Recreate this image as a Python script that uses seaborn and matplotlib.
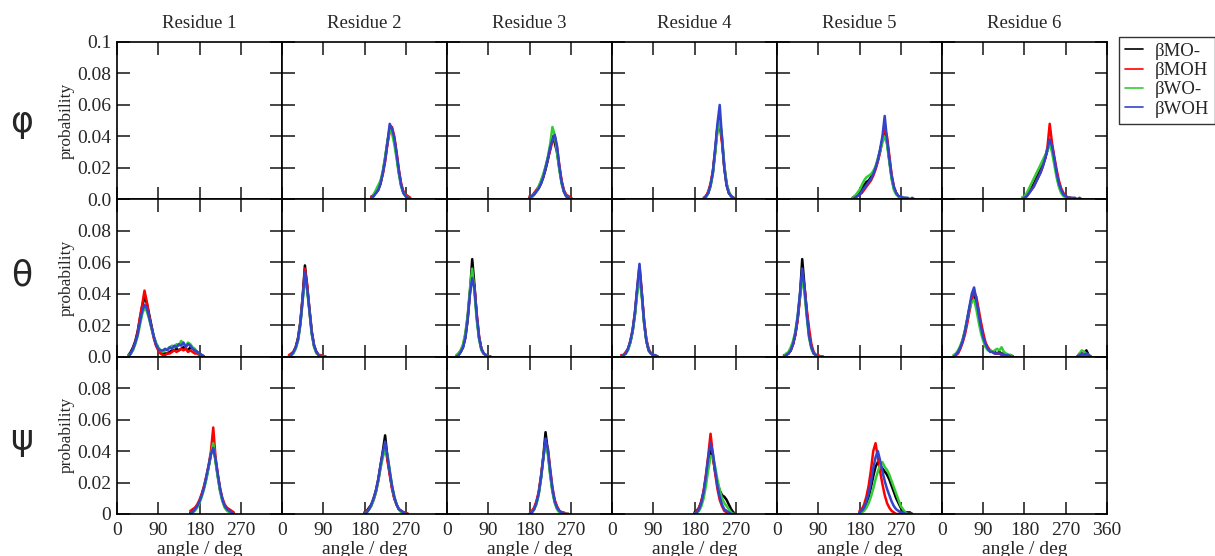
import matplotlib.pyplot as plt
import seaborn as sns
import numpy as np
import pandas as pd

series = ['βMO-', 'βMOH', 'βWO-', 'βWOH']
colors = ['#000000', '#ff0000', '#33cc33', '#3344cc']
residues = ['Residue 1', 'Residue 2', 'Residue 3', 'Residue 4', 'Residue 5', 'Residue 6']
dihedrals = ['φ', 'θ', 'ψ']

# probability per 5 deg bin; one list per series (MO-, MOH, WO-, WOH)
phi2_start = 195
phi2 = [
    [0.001, 0.003, 0.004, 0.006, 0.010, 0.017, 0.026, 0.036, 0.045, 0.044, 0.038, 0.028, 0.017, 0.009, 0.004, 0.002, 0.001, 0.0],
    [0.002, 0.002, 0.005, 0.007, 0.011, 0.016, 0.024, 0.035, 0.043, 0.046, 0.040, 0.030, 0.019, 0.010, 0.005, 0.003, 0.002, 0.001],
    [0.0, 0.003, 0.006, 0.009, 0.012, 0.018, 0.027, 0.037, 0.044, 0.042, 0.035, 0.026, 0.016, 0.008, 0.004, 0.002, 0.001, 0.0],
    [0.001, 0.002, 0.004, 0.006, 0.010, 0.017, 0.025, 0.036, 0.048, 0.045, 0.039, 0.029, 0.018, 0.009, 0.004, 0.002, 0.001, 0.0],
]
phi3_start = 180
phi3 = [
    [0.001, 0.002, 0.003, 0.005, 0.007, 0.010, 0.014, 0.019, 0.025, 0.032, 0.040, 0.036, 0.030, 0.020, 0.011, 0.005, 0.002, 0.001, 0.0, 0.0],
    [0.002, 0.002, 0.004, 0.006, 0.008, 0.011, 0.015, 0.020, 0.026, 0.031, 0.037, 0.040, 0.033, 0.022, 0.012, 0.006, 0.003, 0.002, 0.001, 0.0],
    [0.0, 0.001, 0.003, 0.005, 0.008, 0.012, 0.016, 0.021, 0.027, 0.035, 0.046, 0.041, 0.030, 0.019, 0.010, 0.005, 0.002, 0.001, 0.0, 0.0],
    [0.001, 0.002, 0.003, 0.005, 0.007, 0.010, 0.014, 0.020, 0.026, 0.033, 0.038, 0.041, 0.034, 0.021, 0.011, 0.005, 0.002, 0.001, 0.0, 0.0],
]
phi4_start = 200
phi4 = [
    [0.0, 0.002, 0.004, 0.009, 0.017, 0.030, 0.046, 0.052, 0.038, 0.020, 0.009, 0.004, 0.002, 0.001, 0.0],
    [0.001, 0.002, 0.005, 0.010, 0.018, 0.031, 0.044, 0.047, 0.036, 0.021, 0.010, 0.004, 0.002, 0.001, 0.0],
    [0.0, 0.001, 0.004, 0.008, 0.016, 0.029, 0.043, 0.050, 0.040, 0.022, 0.010, 0.005, 0.002, 0.001, 0.0],
    [0.0, 0.002, 0.004, 0.009, 0.017, 0.032, 0.048, 0.060, 0.039, 0.020, 0.009, 0.004, 0.002, 0.001, 0.0],
]
phi5_start = 165
phi5 = [
    [0.001, 0.002, 0.003, 0.004, 0.006, 0.009, 0.011, 0.012, 0.014, 0.017, 0.020, 0.025, 0.031, 0.038, 0.046, 0.037, 0.025, 0.014, 0.007, 0.004, 0.002, 0.001, 0.001, 0.0, 0.0, 0.0, 0.0, 0.0],
    [0.0, 0.001, 0.002, 0.003, 0.004, 0.006, 0.008, 0.010, 0.012, 0.015, 0.019, 0.024, 0.030, 0.038, 0.045, 0.040, 0.028, 0.016, 0.008, 0.004, 0.002, 0.001, 0.0, 0.0, 0.0, 0.0, 0.0, 0.0],
    [0.001, 0.002, 0.004, 0.006, 0.009, 0.012, 0.014, 0.015, 0.016, 0.018, 0.021, 0.026, 0.031, 0.036, 0.040, 0.035, 0.024, 0.013, 0.006, 0.003, 0.002, 0.001, 0.001, 0.001, 0.0, 0.0, 0.0, 0.0],
    [0.0, 0.001, 0.002, 0.003, 0.005, 0.007, 0.009, 0.011, 0.013, 0.016, 0.020, 0.025, 0.032, 0.040, 0.053, 0.038, 0.026, 0.015, 0.008, 0.004, 0.002, 0.002, 0.001, 0.001, 0.001, 0.0, 0.001, 0.0],
]
phi6_start = 175
phi6 = [
    [0.001, 0.002, 0.003, 0.005, 0.007, 0.010, 0.013, 0.016, 0.019, 0.022, 0.026, 0.031, 0.038, 0.033, 0.025, 0.016, 0.009, 0.005, 0.003, 0.002, 0.001, 0.001, 0.0, 0.0, 0.0, 0.0, 0.0],
    [0.0, 0.001, 0.002, 0.004, 0.006, 0.008, 0.011, 0.014, 0.017, 0.021, 0.026, 0.033, 0.048, 0.036, 0.027, 0.019, 0.012, 0.007, 0.004, 0.002, 0.001, 0.001, 0.0, 0.0, 0.0, 0.0, 0.0],
    [0.001, 0.002, 0.004, 0.007, 0.010, 0.013, 0.016, 0.019, 0.022, 0.025, 0.028, 0.031, 0.035, 0.030, 0.022, 0.014, 0.008, 0.004, 0.002, 0.001, 0.001, 0.0, 0.0, 0.0, 0.0, 0.0, 0.0],
    [0.0, 0.001, 0.002, 0.004, 0.006, 0.008, 0.011, 0.014, 0.017, 0.021, 0.026, 0.032, 0.038, 0.034, 0.026, 0.017, 0.010, 0.006, 0.003, 0.002, 0.001, 0.001, 0.001, 0.001, 0.0, 0.001, 0.0],
]

theta1_start = 25
theta1 = [
    [0.001, 0.003, 0.006, 0.010, 0.016, 0.024, 0.032, 0.038, 0.034, 0.027, 0.020, 0.013, 0.008, 0.005, 0.003, 0.002, 0.002, 0.002, 0.003, 0.004, 0.004, 0.005, 0.004, 0.005, 0.006, 0.005, 0.004, 0.006, 0.005, 0.004, 0.003, 0.002, 0.001, 0.0],
    [0.0, 0.002, 0.005, 0.009, 0.015, 0.025, 0.033, 0.042, 0.035, 0.026, 0.019, 0.012, 0.007, 0.004, 0.002, 0.001, 0.001, 0.002, 0.002, 0.003, 0.004, 0.003, 0.004, 0.005, 0.004, 0.005, 0.003, 0.004, 0.003, 0.002, 0.002, 0.001, 0.001, 0.0],
    [0.001, 0.002, 0.004, 0.008, 0.013, 0.020, 0.027, 0.031, 0.029, 0.024, 0.018, 0.013, 0.009, 0.006, 0.004, 0.003, 0.004, 0.005, 0.006, 0.007, 0.006, 0.008, 0.007, 0.010, 0.008, 0.007, 0.009, 0.008, 0.006, 0.005, 0.003, 0.002, 0.001, 0.0],
    [0.0, 0.002, 0.005, 0.009, 0.014, 0.022, 0.029, 0.033, 0.031, 0.025, 0.019, 0.013, 0.008, 0.005, 0.004, 0.004, 0.005, 0.004, 0.006, 0.005, 0.007, 0.006, 0.008, 0.007, 0.009, 0.006, 0.008, 0.007, 0.005, 0.004, 0.003, 0.002, 0.001, 0.0],
]
theta2_start = 15
theta2 = [
    [0.0, 0.001, 0.003, 0.006, 0.012, 0.022, 0.038, 0.058, 0.044, 0.030, 0.016, 0.007, 0.003, 0.001, 0.0, 0.0, 0.0],
    [0.001, 0.002, 0.003, 0.006, 0.011, 0.021, 0.037, 0.056, 0.046, 0.029, 0.015, 0.007, 0.003, 0.001, 0.001, 0.0, 0.0],
    [0.0, 0.001, 0.002, 0.005, 0.010, 0.020, 0.035, 0.050, 0.042, 0.028, 0.014, 0.006, 0.002, 0.001, 0.0, 0.0, 0.0],
    [0.0, 0.001, 0.003, 0.006, 0.011, 0.021, 0.036, 0.054, 0.043, 0.029, 0.015, 0.007, 0.003, 0.001, 0.0, 0.0, 0.0],
]
theta3_start = 20
theta3 = [
    [0.0, 0.001, 0.003, 0.006, 0.012, 0.023, 0.040, 0.062, 0.045, 0.025, 0.012, 0.005, 0.002, 0.001, 0.0, 0.0],
    [0.0, 0.002, 0.004, 0.007, 0.014, 0.025, 0.041, 0.052, 0.044, 0.027, 0.013, 0.005, 0.002, 0.001, 0.0, 0.0],
    [0.001, 0.002, 0.004, 0.008, 0.015, 0.026, 0.043, 0.056, 0.040, 0.023, 0.011, 0.004, 0.002, 0.001, 0.0, 0.0],
    [0.0, 0.001, 0.003, 0.006, 0.012, 0.024, 0.040, 0.050, 0.043, 0.026, 0.012, 0.005, 0.002, 0.001, 0.0, 0.0],
]
theta4_start = 20
theta4 = [
    [0.0, 0.001, 0.002, 0.005, 0.009, 0.016, 0.027, 0.042, 0.055, 0.040, 0.022, 0.010, 0.004, 0.002, 0.001, 0.0, 0.0],
    [0.001, 0.001, 0.003, 0.005, 0.010, 0.017, 0.028, 0.043, 0.058, 0.041, 0.023, 0.011, 0.005, 0.002, 0.001, 0.0, 0.0],
    [0.0, 0.001, 0.002, 0.004, 0.009, 0.016, 0.026, 0.040, 0.050, 0.038, 0.021, 0.010, 0.004, 0.002, 0.001, 0.0, 0.0],
    [0.0, 0.001, 0.002, 0.005, 0.010, 0.017, 0.028, 0.044, 0.059, 0.040, 0.022, 0.010, 0.004, 0.002, 0.001, 0.001, 0.0],
]
theta5_start = 15
theta5 = [
    [0.0, 0.001, 0.002, 0.004, 0.008, 0.014, 0.024, 0.038, 0.062, 0.045, 0.028, 0.014, 0.006, 0.002, 0.001, 0.0, 0.0, 0.0],
    [0.001, 0.001, 0.002, 0.004, 0.008, 0.014, 0.023, 0.037, 0.052, 0.044, 0.030, 0.018, 0.008, 0.003, 0.001, 0.001, 0.0, 0.0],
    [0.0, 0.002, 0.003, 0.006, 0.010, 0.016, 0.026, 0.039, 0.050, 0.040, 0.025, 0.012, 0.005, 0.002, 0.001, 0.0, 0.0, 0.0],
    [0.0, 0.001, 0.002, 0.004, 0.008, 0.015, 0.025, 0.040, 0.056, 0.044, 0.027, 0.013, 0.006, 0.002, 0.001, 0.0, 0.0, 0.0],
]
theta6_start = 25
theta6 = [
    [0.0, 0.001, 0.003, 0.006, 0.010, 0.016, 0.023, 0.031, 0.038, 0.040, 0.033, 0.025, 0.018, 0.012, 0.008, 0.005, 0.004, 0.003, 0.003, 0.002, 0.003, 0.002, 0.002, 0.001, 0.001, 0.001, 0.0],
    [0.0, 0.001, 0.002, 0.005, 0.009, 0.014, 0.021, 0.029, 0.036, 0.041, 0.038, 0.030, 0.022, 0.015, 0.009, 0.006, 0.004, 0.003, 0.002, 0.002, 0.002, 0.001, 0.001, 0.001, 0.0, 0.0, 0.0],
    [0.001, 0.002, 0.004, 0.007, 0.011, 0.017, 0.024, 0.031, 0.035, 0.036, 0.030, 0.022, 0.015, 0.010, 0.006, 0.004, 0.004, 0.003, 0.004, 0.005, 0.004, 0.006, 0.003, 0.002, 0.001, 0.001, 0.0],
    [0.0, 0.001, 0.003, 0.006, 0.010, 0.016, 0.024, 0.032, 0.040, 0.044, 0.036, 0.027, 0.019, 0.012, 0.008, 0.005, 0.003, 0.003, 0.002, 0.002, 0.002, 0.002, 0.001, 0.001, 0.001, 0.0, 0.0],
]
theta6b_start = 295
theta6b = [
    [0.0, 0.001, 0.003, 0.002, 0.004, 0.001, 0.0],
    [0.0, 0.002, 0.001, 0.003, 0.001, 0.0, 0.0],
    [0.0, 0.002, 0.004, 0.003, 0.002, 0.001, 0.0],
    [0.0, 0.001, 0.002, 0.001, 0.002, 0.001, 0.0],
]

psi1_start = 160
psi1 = [
    [0.001, 0.002, 0.003, 0.005, 0.008, 0.012, 0.017, 0.023, 0.030, 0.038, 0.044, 0.034, 0.024, 0.015, 0.009, 0.005, 0.003, 0.002, 0.001, 0.0],
    [0.002, 0.003, 0.004, 0.006, 0.009, 0.013, 0.018, 0.024, 0.031, 0.040, 0.055, 0.036, 0.025, 0.016, 0.010, 0.006, 0.004, 0.003, 0.002, 0.001],
    [0.0, 0.001, 0.002, 0.004, 0.007, 0.011, 0.016, 0.022, 0.030, 0.038, 0.045, 0.033, 0.023, 0.014, 0.008, 0.004, 0.002, 0.001, 0.0, 0.0],
    [0.0, 0.001, 0.003, 0.005, 0.008, 0.012, 0.017, 0.024, 0.031, 0.038, 0.042, 0.035, 0.025, 0.016, 0.009, 0.005, 0.003, 0.002, 0.001, 0.0],
]
psi2_start = 180
psi2 = [
    [0.001, 0.002, 0.004, 0.006, 0.010, 0.015, 0.022, 0.031, 0.040, 0.050, 0.036, 0.026, 0.017, 0.010, 0.006, 0.003, 0.002, 0.001, 0.0, 0.0],
    [0.001, 0.002, 0.003, 0.006, 0.009, 0.014, 0.021, 0.030, 0.038, 0.044, 0.034, 0.025, 0.016, 0.010, 0.006, 0.003, 0.002, 0.001, 0.001, 0.0],
    [0.0, 0.001, 0.003, 0.005, 0.009, 0.014, 0.021, 0.029, 0.036, 0.041, 0.038, 0.028, 0.018, 0.011, 0.006, 0.003, 0.001, 0.0, 0.0, 0.0],
    [0.0, 0.001, 0.003, 0.006, 0.010, 0.015, 0.022, 0.031, 0.039, 0.046, 0.037, 0.027, 0.018, 0.011, 0.006, 0.003, 0.002, 0.001, 0.0, 0.0],
]
psi3_start = 180
psi3 = [
    [0.0, 0.001, 0.003, 0.007, 0.013, 0.023, 0.036, 0.052, 0.040, 0.026, 0.015, 0.008, 0.004, 0.002, 0.001, 0.0, 0.0, 0.0],
    [0.0, 0.002, 0.004, 0.008, 0.014, 0.024, 0.036, 0.045, 0.042, 0.029, 0.017, 0.009, 0.005, 0.002, 0.001, 0.001, 0.0, 0.0],
    [0.0, 0.001, 0.003, 0.006, 0.012, 0.022, 0.035, 0.046, 0.038, 0.025, 0.014, 0.007, 0.003, 0.001, 0.0, 0.0, 0.0, 0.0],
    [0.0, 0.001, 0.003, 0.007, 0.013, 0.023, 0.035, 0.048, 0.041, 0.028, 0.016, 0.008, 0.004, 0.002, 0.001, 0.0, 0.0, 0.0],
]
psi4_start = 180
psi4 = [
    [0.001, 0.002, 0.004, 0.008, 0.014, 0.023, 0.034, 0.042, 0.036, 0.027, 0.020, 0.015, 0.012, 0.011, 0.009, 0.006, 0.003, 0.001, 0.0],
    [0.0, 0.002, 0.004, 0.008, 0.015, 0.025, 0.037, 0.051, 0.038, 0.026, 0.016, 0.009, 0.005, 0.002, 0.001, 0.0, 0.0, 0.0, 0.0],
    [0.0, 0.001, 0.002, 0.005, 0.010, 0.018, 0.028, 0.036, 0.037, 0.030, 0.022, 0.015, 0.010, 0.007, 0.005, 0.003, 0.001, 0.0, 0.0],
    [0.0, 0.001, 0.003, 0.007, 0.014, 0.024, 0.036, 0.045, 0.039, 0.028, 0.018, 0.011, 0.006, 0.003, 0.002, 0.001, 0.0, 0.0, 0.0],
]
psi5_start = 180
psi5 = [
    [0.001, 0.002, 0.004, 0.007, 0.011, 0.017, 0.024, 0.030, 0.033, 0.031, 0.029, 0.027, 0.025, 0.022, 0.018, 0.014, 0.010, 0.007, 0.004, 0.002, 0.001, 0.001, 0.001, 0.0],
    [0.002, 0.003, 0.006, 0.011, 0.018, 0.028, 0.040, 0.045, 0.036, 0.027, 0.019, 0.012, 0.007, 0.004, 0.002, 0.001, 0.0, 0.0, 0.0, 0.0, 0.0, 0.0, 0.0, 0.0],
    [0.0, 0.001, 0.002, 0.004, 0.007, 0.011, 0.016, 0.022, 0.027, 0.031, 0.033, 0.030, 0.028, 0.025, 0.021, 0.017, 0.013, 0.009, 0.005, 0.003, 0.001, 0.0, 0.0, 0.0],
    [0.001, 0.002, 0.004, 0.008, 0.013, 0.020, 0.029, 0.036, 0.040, 0.034, 0.027, 0.021, 0.016, 0.012, 0.008, 0.005, 0.003, 0.002, 0.001, 0.001, 0.0, 0.0, 0.0, 0.0],
]

# (row, column) -> list of (start angle, values) segments
panels = {
    (0, 1): [(phi2_start, phi2)],
    (0, 2): [(phi3_start, phi3)],
    (0, 3): [(phi4_start, phi4)],
    (0, 4): [(phi5_start, phi5)],
    (0, 5): [(phi6_start, phi6)],
    (1, 0): [(theta1_start, theta1)],
    (1, 1): [(theta2_start, theta2)],
    (1, 2): [(theta3_start, theta3)],
    (1, 3): [(theta4_start, theta4)],
    (1, 4): [(theta5_start, theta5)],
    (1, 5): [(theta6_start, theta6), (theta6b_start, theta6b)],
    (2, 0): [(psi1_start, psi1)],
    (2, 1): [(psi2_start, psi2)],
    (2, 2): [(psi3_start, psi3)],
    (2, 3): [(psi4_start, psi4)],
    (2, 4): [(psi5_start, psi5)],
}

records = []
for (r, c), segs in panels.items():
    for k, (start, block) in enumerate(segs):
        for name, vals in zip(series, block):
            for i, v in enumerate(vals):
                records.append((r, c, k, name, start + 5 * i, v))
df = pd.DataFrame(records, columns=['row', 'col', 'seg', 'series', 'angle', 'prob'])

sns.set_style('ticks')
plt.rcParams['font.family'] = ['Liberation Serif', 'DejaVu Serif']
plt.rcParams['axes.linewidth'] = 1.2

fig = plt.figure(figsize=(12.15, 5.56), dpi=100)
axes = fig.subplots(3, 6, gridspec_kw=dict(wspace=0, hspace=0))
fig.subplots_adjust(left=117 / 1215, right=1107 / 1215, top=1 - 42 / 556, bottom=1 - 514 / 556)

handles = None
for r in range(3):
    for c in range(6):
        ax = axes[r, c]
        sub = df[(df.row == r) & (df.col == c)]
        if len(sub):
            sns.lineplot(data=sub, x='angle', y='prob', hue='series', units='seg',
                         estimator=None, hue_order=series, palette=colors,
                         lw=1.8, ax=ax, legend=(handles is None))
            if handles is None:
                handles, labels = ax.get_legend_handles_labels()
                ax.get_legend().remove()
        ax.set_xlim(0, 360)
        ax.set_ylim(0, 0.1)
        ax.set_xticks([0, 90, 180, 270, 360])
        ax.set_yticks([0, 0.02, 0.04, 0.06, 0.08, 0.1])
        ax.tick_params(direction='in', top=True, right=True, length=9, width=1.2,
                       labelsize=14, pad=4)
        ax.tick_params(axis='x', pad=6)
        for s in ax.spines.values():
            s.set_color('black')
        if r == 2:
            xl = ['0', '90', '180', '270', '360' if c == 5 else '']
            ax.set_xticklabels(xl)
            ax.set_xlabel('angle / deg', fontsize=14, labelpad=1)
        else:
            ax.set_xticklabels([])
            ax.set_xlabel('')
        if c == 0:
            top = '0.1' if r == 0 else ''
            zero = '0' if r == 2 else '0.0'
            ax.set_yticklabels([zero, '0.02', '0.04', '0.06', '0.08', top])
            ax.set_ylabel('probability', fontsize=12.5, labelpad=2)
        else:
            ax.set_yticklabels([])
            ax.set_ylabel('')
        if r == 0:
            ax.set_title(residues[c], fontsize=13.5, pad=10)

for r, (name, yc) in enumerate(zip(dihedrals, [122, 275, 440])):
    fig.text(22 / 1215, 1 - yc / 556, name, fontsize=25, ha='center', va='center',
             family=['DejaVu Sans'])

leg = fig.legend(handles, labels, loc='upper left', bbox_to_anchor=(1119 / 1215, 1 - 37 / 556),
                 fontsize=13.5, handlelength=1.0, handletextpad=0.6, labelspacing=0.12,
                 frameon=True, fancybox=False, borderpad=0.3, borderaxespad=0)
leg.get_frame().set_edgecolor('black')
leg.get_frame().set_linewidth(1.0)
for h in leg.get_lines():
    h.set_linewidth(1.2)

fig.savefig('out.png', dpi=100)
